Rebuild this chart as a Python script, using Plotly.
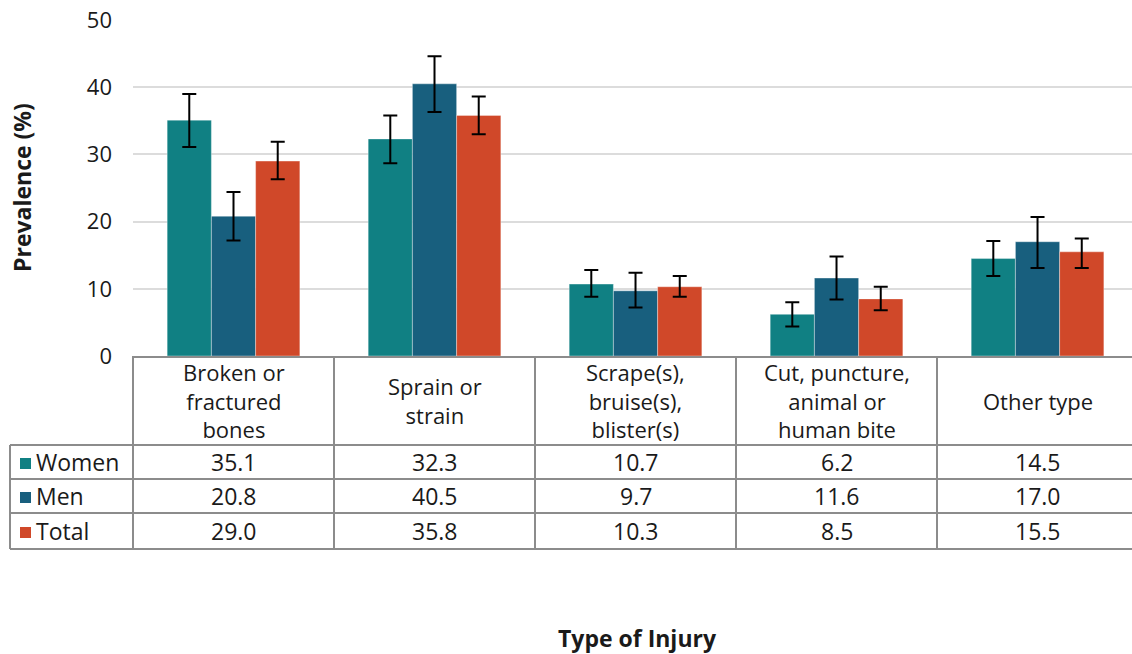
import plotly.graph_objects as go

# Injury categories (table headers) and prevalence by group
categories = ["Broken or<br>fractured<br>bones", "Sprain or<br>strain",
              "Scrape(s),<br>bruise(s),<br>blister(s)",
              "Cut, puncture,<br>animal or<br>human bite", "Other type"]
groups = ["Women", "Men", "Total"]

# point estimates with 95% CI bounds
women = [35.1, 32.3, 10.7, 6.2, 14.5]
women_hi = [39.0, 35.8, 12.8, 8.0, 17.1]
women_lo = [31.1, 28.7, 8.8, 4.4, 11.9]

men = [20.8, 40.5, 9.7, 11.6, 17.0]
men_hi = [24.4, 44.6, 12.4, 14.8, 20.7]
men_lo = [17.2, 36.3, 7.2, 8.4, 13.1]

total = [29.0, 35.8, 10.3, 8.5, 15.5]
total_hi = [31.9, 38.6, 11.9, 10.3, 17.5]
total_lo = [26.3, 33.0, 8.8, 6.8, 13.1]

y_ticks = [0, 10, 20, 30, 40, 50]

colors = {"Women": "#108083", "Men": "#185f7e", "Total": "#d04829"}
series = {
    "Women": (women, women_hi, women_lo),
    "Men": (men, men_hi, men_lo),
    "Total": (total, total_hi, total_lo),
}

FONT = "Open Sans"
TXT = "#1a1a1a"
BORDER = "#8c8c8c"
TABLE_SIZE = 23
HEADER_SIZE = 22

W, H = 1132, 654
ML, MT, MB = 133, 20, 298
plot_w = W - ML
plot_h = H - MT - MB
x_range = [-0.5, len(categories) - 0.53]

fig = go.Figure()
x_idx = list(range(len(categories)))
for g in groups:
    vals, hi, lo = series[g]
    fig.add_trace(go.Bar(
        x=x_idx, y=vals, name=g,
        marker=dict(color=colors[g], line=dict(color="rgba(255,255,255,0.35)", width=1)),
        error_y=dict(type="data", symmetric=False,
                     array=[h - v for h, v in zip(hi, vals)],
                     arrayminus=[v - l for v, l in zip(vals, lo)],
                     color="#000000", thickness=2, width=7),
        showlegend=False,
    ))


def px_to_paper_x(px):
    return (px - ML) / plot_w


def px_to_paper_y(py):
    return (H - MB - py) / plot_h


def idx_to_paper_x(v):
    return (v - x_range[0]) / (x_range[1] - x_range[0])


# table geometry (pixels below the plot)
table_top = H - MB
header_bot = 445
row_edges = [445, 479, 513, 549]
label_left = 10

shapes = []
line = dict(color=BORDER, width=2)
x_right = 1.02
# horizontal rules
for ry in row_edges:
    shapes.append(dict(type="line", xref="paper", yref="paper",
                       x0=px_to_paper_x(label_left), x1=x_right,
                       y0=px_to_paper_y(ry), y1=px_to_paper_y(ry), line=line))
# vertical rules
shapes.append(dict(type="line", xref="paper", yref="paper",
                   x0=px_to_paper_x(label_left), x1=px_to_paper_x(label_left),
                   y0=px_to_paper_y(header_bot), y1=px_to_paper_y(row_edges[-1]), line=line))
for k in range(len(categories) + 1):
    xp = idx_to_paper_x(k - 0.5)
    shapes.append(dict(type="line", xref="paper", yref="paper",
                       x0=xp, x1=xp, y0=px_to_paper_y(table_top),
                       y1=px_to_paper_y(row_edges[-1]), line=line))

annotations = []
# header cells
head_mid = (table_top + header_bot) / 2
for i, c in enumerate(categories):
    annotations.append(dict(
        text=c, xref="paper", yref="paper",
        x=idx_to_paper_x(i), y=px_to_paper_y(head_mid),
        xanchor="center", yanchor="middle", showarrow=False,
        font=dict(family=FONT, size=HEADER_SIZE, color=TXT)))

# data rows with coloured key squares
for r, g in enumerate(groups):
    vals = series[g][0]
    yc = (row_edges[r] + row_edges[r + 1]) / 2
    shapes.append(dict(type="rect", xref="paper", yref="paper",
                       x0=px_to_paper_x(20), x1=px_to_paper_x(31),
                       y0=px_to_paper_y(yc - 4), y1=px_to_paper_y(yc + 7),
                       fillcolor=colors[g], line=dict(width=0)))
    annotations.append(dict(
        text=g, xref="paper", yref="paper",
        x=px_to_paper_x(34), y=px_to_paper_y(yc),
        xanchor="left", yanchor="middle", showarrow=False,
        font=dict(family=FONT, size=TABLE_SIZE, color=TXT)))
    for i, v in enumerate(vals):
        annotations.append(dict(
            text=f"{v:.1f}", xref="paper", yref="paper",
            x=idx_to_paper_x(i), y=px_to_paper_y(yc),
            xanchor="center", yanchor="middle", showarrow=False,
            font=dict(family=FONT, size=TABLE_SIZE, color=TXT)))

# axis titles
annotations.append(dict(
    text="<b>Prevalence (%)</b>", xref="paper", yref="paper",
    x=px_to_paper_x(22), y=0.5, textangle=-90,
    xanchor="center", yanchor="middle", showarrow=False,
    font=dict(family=FONT, size=23, color=TXT)))
annotations.append(dict(
    text="<b>Type of Injury</b>", xref="paper", yref="paper",
    x=px_to_paper_x(637), y=px_to_paper_y(638),
    xanchor="center", yanchor="middle", showarrow=False,
    font=dict(family=FONT, size=23, color=TXT)))

fig.update_layout(
    width=W, height=H,
    margin=dict(l=ML, r=0, t=MT, b=MB, pad=0),
    paper_bgcolor="white", plot_bgcolor="white",
    barmode="group", bargap=0.34, bargroupgap=0,
    font=dict(family=FONT, color=TXT),
    xaxis=dict(range=x_range, showticklabels=False, showgrid=False, zeroline=False,
               showline=True, linecolor=BORDER, linewidth=2, fixedrange=True),
    yaxis=dict(range=[0, 50], tickvals=y_ticks, showgrid=True, gridcolor="#dcdcdc",
               gridwidth=1.5, zeroline=False, showline=False,
               tickfont=dict(family=FONT, size=22, color=TXT),
               ticklabelstandoff=20),
    shapes=shapes, annotations=annotations,
)

fig.write_html("out.html")
